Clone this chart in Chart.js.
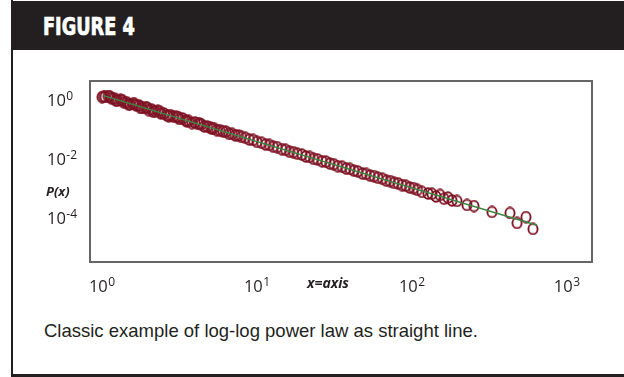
<!DOCTYPE html>
<html>
<head>
<meta charset="utf-8">
<title>Figure 4</title>
<script src="https://cdn.jsdelivr.net/npm/chart.js@4.4.1/dist/chart.umd.min.js"></script>
<style>
  html, body { margin: 0; padding: 0; background: #fff; }
  body { width: 624px; height: 377px; position: relative; overflow: hidden; }
  .bar { position: absolute; left: 11px; top: 1px; width: 613px; height: 49px; background: #231f20; }
  .title { position: absolute; left: 43px; top: 15px; color: #fff; white-space: nowrap;
           font: bold 24px/24px "Liberation Sans Narrow", "Arial Narrow", "DejaVu Sans Condensed", sans-serif;
           -webkit-text-stroke: 0.7px #fff; transform: scaleX(0.82); transform-origin: 0 0; }
  .rule-left { position: absolute; left: 11px; top: 0; width: 2px; height: 377px; background: #231f20; }
  .rule-bottom { position: absolute; left: 11px; top: 374px; width: 613px; height: 3px; background: #231f20; }
  .caption { position: absolute; left: 44px; top: 322px; color: #231f20; white-space: nowrap;
             font: 18.5px/18px "Liberation Sans", Arial, sans-serif; }
  #chart { position: absolute; left: 0; top: 0; }
</style>
</head>
<body>
<div class="bar"></div>
<div class="title">FIGURE 4</div>
<div class="rule-left"></div>
<div class="rule-bottom"></div>
<div class="caption">Classic example of log-log power law as straight line.</div>
<canvas id="chart" width="624" height="377"></canvas>
<script>
// Observed values x and probabilities P(x), low range (dense band)
const xHead = [1.000, 1.023, 1.047, 1.096, 1.122, 1.148, 1.202, 1.230, 1.259, 1.318,
  1.349, 1.380, 1.445, 1.479, 1.514, 1.585, 1.622, 1.660, 1.738, 1.778,
  1.820, 1.905, 1.950, 1.995, 2.089, 2.138, 2.188, 2.291, 2.344, 2.399,
  2.512, 2.630, 2.692, 2.754, 2.884, 3.020, 3.090, 3.162, 3.311, 3.467,
  3.548, 3.631, 3.802, 3.981, 4.169, 4.266, 4.365, 4.571, 4.786, 5.012,
  5.129, 5.248, 5.495, 5.754, 6.026, 6.310, 6.607, 6.918, 7.244, 7.586, 7.943];
const pHead = [1.26, 1.28, 1.29, 1.35, 1.33, 1.14, 1.14, 0.957, 0.968, 1.01,
  0.995, 0.838, 0.834, 0.716, 0.708, 0.738, 0.746, 0.656, 0.653, 0.537,
  0.542, 0.541, 0.558, 0.458, 0.479, 0.402, 0.415, 0.424, 0.418, 0.351,
  0.350, 0.297, 0.286, 0.310, 0.275, 0.268, 0.265, 0.228, 0.237, 0.201,
  0.185, 0.196, 0.166, 0.174, 0.154, 0.160, 0.150, 0.127, 0.127, 0.113,
  0.106, 0.112, 0.0955, 0.0951, 0.0865, 0.0841, 0.0714, 0.0711, 0.0632, 0.0631, 0.0560];

// Middle range
const xBody = [8.414, 8.913, 9.441, 10.00, 10.72, 11.35, 12.02, 12.74, 13.49, 14.45,
  15.31, 16.22, 17.18, 18.20, 19.50, 20.65, 21.88, 23.17, 24.55, 26.30,
  27.86, 29.51, 31.26, 33.11, 35.48, 37.58, 39.81, 42.17, 44.67, 47.86,
  50.70, 53.70, 56.89, 60.26, 64.57, 68.39, 72.44, 76.74, 81.28, 86.10,
  91.20, 96.61, 102.3, 108.4];
const pBody = [0.0524, 0.0457, 0.0442, 0.0381, 0.0354, 0.0309, 0.0299, 0.0261, 0.0252, 0.0216,
  0.0204, 0.0176, 0.0171, 0.0152, 0.0141, 0.0122, 0.0117, 0.0101, 0.00973, 0.00843,
  0.00807, 0.00697, 0.00665, 0.00574, 0.00546, 0.00476, 0.00460, 0.00402, 0.00380, 0.00322,
  0.00311, 0.00272, 0.00263, 0.00232, 0.00213, 0.00184, 0.00178, 0.00155, 0.00150, 0.00131,
  0.00124, 0.00108, 0.00103, 0.000902];

// Sparse tail
const xTail = [116.0, 126.8, 134.6, 142.8, 151.6, 160.9, 170.7, 181.2, 195.1, 226.3,
  251.2, 328.1, 428.8, 475.9, 543.9, 603.4];
const pTail = [0.000767, 0.000678, 0.000661, 0.000536, 0.000603, 0.000448, 0.000492, 0.000392, 0.000377, 0.000276,
  0.000255, 0.000160, 0.000148, 0.0000678, 0.000108, 0.0000424];

// Fitted power law (straight line on log-log axes)
const fitX = [1.02, 640];
const fitP = [1.41, 0.0000566];

// Axis ranges and decade labels
const xRange = [0.8367, 1450];
const yRange = [3.225e-6, 4.406];
const xTickValues = [1, 10, 100, 1000];
const yTickValues = [1, 0.01, 0.0001];

const toPoints = (xs, ps) => xs.map((v, i) => ({ x: v, y: ps[i] }));
const observed = [
  ...toPoints(xHead, pHead),
  ...toPoints(xBody, pBody),
  ...toPoints(xTail, pTail)
];

// Hollow, slightly tall ring used as the point marker
function ringMarker() {
  const c = document.createElement('canvas');
  c.width = 12; c.height = 13;
  const g = c.getContext('2d');
  g.strokeStyle = '#7e1324';
  g.lineWidth = 1.9;
  g.beginPath();
  g.ellipse(6, 6.5, 4.6, 5.3, 0, 0, Math.PI * 2);
  g.stroke();
  return c;
}

const INK = '#231f20';
const NUM_FONT = '"Open Sans", "Noto Sans", sans-serif';

// "10" with a raised exponent
function drawPower(ctx, exp, px, baseline, align) {
  ctx.font = '16.5px ' + NUM_FONT;
  const wBase = ctx.measureText('10').width;
  ctx.font = '12px ' + NUM_FONT;
  const wExp = ctx.measureText(exp).width;
  const w = wBase + 0.5 + wExp;
  const left = align === 'center' ? px - w / 2 : px;
  ctx.textAlign = 'left';
  ctx.textBaseline = 'alphabetic';
  ctx.font = '16.5px ' + NUM_FONT;
  ctx.fillText('10', left, baseline);
  ctx.font = '12px ' + NUM_FONT;
  ctx.fillText(exp, left + wBase + 0.5, baseline - 6);
}

const frameAndLabels = {
  id: 'frameAndLabels',
  afterDatasetsDraw(chart) {
    const { ctx, chartArea: a, scales: { x, y } } = chart;
    ctx.save();
    // plot box
    ctx.strokeStyle = '#666666';
    ctx.lineWidth = 2;
    ctx.strokeRect(a.left, a.top, a.right - a.left, a.bottom - a.top);
    // decade labels
    ctx.fillStyle = INK;
    xTickValues.forEach(v => {
      const e = Math.round(Math.log10(v));
      drawPower(ctx, String(e), x.getPixelForValue(v), 292, 'center');
    });
    yTickValues.forEach(v => {
      const e = Math.round(Math.log10(v));
      drawPower(ctx, e < 0 ? '-' + (-e) : String(e), 47, y.getPixelForValue(v) + 6, 'left');
    });
    // axis titles
    ctx.textBaseline = 'alphabetic';
    ctx.font = 'italic bold 13px ' + NUM_FONT;
    ctx.textAlign = 'left';
    ctx.fillText('P(x)', 46, 196);
    ctx.font = 'italic bold 14px ' + NUM_FONT;
    ctx.textAlign = 'center';
    ctx.fillText('x=axis', 328, 288);
    ctx.restore();
  }
};

new Chart(document.getElementById('chart'), {
  type: 'scatter',
  data: {
    datasets: [
      {
        label: 'fit',
        data: toPoints(fitX, fitP),
        showLine: true,
        borderColor: '#3b8643',
        borderWidth: 1.5,
        pointRadius: 0,
        order: 0
      },
      {
        label: 'P(x)',
        data: observed,
        pointStyle: ringMarker(),
        pointRadius: 5,
        order: 1
      }
    ]
  },
  options: {
    responsive: false,
    animation: false,
    devicePixelRatio: 1,
    events: [],
    layout: { padding: { left: 90, top: 81, right: 32, bottom: 115 } },
    plugins: { legend: { display: false }, tooltip: { enabled: false } },
    scales: {
      x: { type: 'logarithmic', min: xRange[0], max: xRange[1], display: false },
      y: { type: 'logarithmic', min: yRange[0], max: yRange[1], display: false }
    }
  },
  plugins: [frameAndLabels]
});
</script>
</body>
</html>
